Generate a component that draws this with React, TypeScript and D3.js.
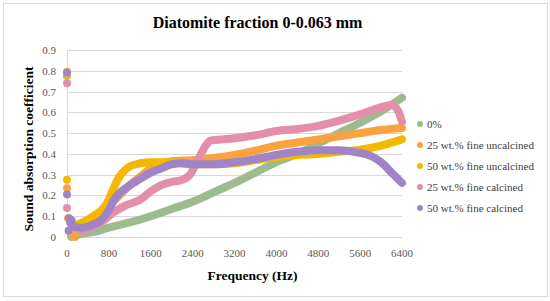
import React, { useRef, useEffect } from 'react';
import * as d3 from 'd3';

// Frequency (Hz) / absorption readings per series
const greenFreq = [80, 200, 400, 600, 800, 1200, 1600, 2000, 2400, 2800, 3200, 3600, 4000, 4400, 4800, 5200, 5600, 6000, 6400];
const greenVals = [0, 0.01, 0.02, 0.03, 0.045, 0.07, 0.1, 0.135, 0.17, 0.215, 0.26, 0.31, 0.36, 0.4, 0.45, 0.5, 0.55, 0.605, 0.67];

const orangeFreq = [120, 200, 400, 600, 800, 1000, 1200, 1400, 1600, 1800, 2000, 2400, 2800, 3200, 3600, 4000, 4400, 4800, 5200, 5600, 6000, 6400];
const orangeVals = [0.01, 0.05, 0.08, 0.11, 0.15, 0.2, 0.25, 0.29, 0.33, 0.35, 0.365, 0.37, 0.38, 0.395, 0.415, 0.44, 0.455, 0.47, 0.485, 0.5, 0.515, 0.525];

const yellowFreq = [100, 300, 500, 700, 800, 900, 1000, 1100, 1200, 1400, 1600, 2000, 2400, 2800, 3200, 3600, 4000, 4400, 4800, 5200, 5600, 6000, 6400];
const yellowVals = [0.05, 0.07, 0.1, 0.14, 0.18, 0.24, 0.29, 0.32, 0.34, 0.355, 0.36, 0.36, 0.35, 0.35, 0.355, 0.37, 0.385, 0.395, 0.4, 0.41, 0.42, 0.44, 0.47];

const pinkFreq = [300, 500, 700, 900, 1100, 1400, 1600, 1800, 2000, 2200, 2350, 2500, 2650, 2750, 3000, 3200, 3600, 4000, 4400, 4800, 5200, 5600, 6000, 6200, 6320, 6400];
const pinkVals = [0.03, 0.05, 0.08, 0.12, 0.15, 0.18, 0.22, 0.25, 0.265, 0.275, 0.3, 0.37, 0.44, 0.465, 0.47, 0.475, 0.49, 0.51, 0.52, 0.535, 0.56, 0.59, 0.625, 0.635, 0.61, 0.555];

const purpleFreq = [100, 300, 500, 650, 800, 900, 1000, 1150, 1400, 1600, 1800, 2000, 2200, 2400, 2800, 3200, 3600, 4000, 4400, 4800, 5200, 5600, 5800, 6000, 6200, 6400];
const purpleVals = [0.05, 0.045, 0.06, 0.08, 0.13, 0.18, 0.21, 0.24, 0.28, 0.31, 0.33, 0.35, 0.355, 0.35, 0.35, 0.36, 0.375, 0.395, 0.41, 0.418, 0.418, 0.405, 0.39, 0.36, 0.31, 0.26];

// stray readings sitting at the 0 Hz end
const strayFreq = [0, 0, 0, 0, 0, 0, 0, 0, 20, 150, 0, 40, 60, 90, 30];
const strayVals = [0.775, 0.795, 0.78, 0.74, 0.79, 0.275, 0.235, 0.205, 0.09, 0.0, 0.14, 0.09, 0.07, 0.08, 0.03];
const strayColor = [0, 1, 2, 3, 4, 2, 1, 4, 1, 1, 3, 4, 4, 4, 4];
const strayDraw = [0, 1, 2, 3, 4, 5, 6, 7, 8, 9, 10, 11, 12, 13, 14];

const seriesNames = ['0%', '25 wt.% fine uncalcined', '50 wt.% fine uncalcined', '25 wt.% fine calcined', '50 wt.% fine calcined'];
const seriesColors = ['#9dbb8e', '#f9a23f', '#f4b800', '#e38fa9', '#a084c8'];

const xTicks = [0, 800, 1600, 2400, 3200, 4000, 4800, 5600, 6400];
const yTicks = [0, 0.1, 0.2, 0.3, 0.4, 0.5, 0.6, 0.7, 0.8, 0.9];

const width = 550;
const height = 301;
const margin = { top: 50, left: 67 };

const App = () => {
  const ref = useRef<SVGSVGElement>(null);

  useEffect(() => {
    const svg = d3.select(ref.current);
    svg.selectAll('*').remove();

    const x = d3.scaleLinear().domain([0, 6400]).range([margin.left, margin.left + 335]);
    const y = d3.scaleLinear().domain([0, 0.9]).range([margin.top + 187, margin.top]);

    svg.append('rect')
      .attr('x', 3.5).attr('y', 3.5)
      .attr('width', 544).attr('height', 293)
      .attr('fill', '#fff')
      .attr('stroke', '#d9d9d9');

    // grid
    svg.append('g')
      .selectAll('line')
      .data(yTicks)
      .enter()
      .append('line')
      .attr('x1', x(0)).attr('x2', x(6400))
      .attr('y1', d => Math.round(y(d)) + 0.5).attr('y2', d => Math.round(y(d)) + 0.5)
      .attr('stroke', '#d9d9d9');

    svg.append('line')
      .attr('x1', x(0) + 0.5).attr('x2', x(0) + 0.5)
      .attr('y1', y(0.9)).attr('y2', y(0))
      .attr('stroke', '#d9d9d9');

    const tickFont = 'Liberation Serif, Times New Roman, serif';

    svg.append('g')
      .selectAll('text')
      .data(yTicks)
      .enter()
      .append('text')
      .attr('x', 56)
      .attr('y', d => y(d) + 4)
      .attr('text-anchor', 'end')
      .attr('font-family', tickFont)
      .attr('font-size', '11px')
      .attr('fill', '#595959')
      .text(d => (d === 0 ? '0' : d3.format('.1f')(d)));

    svg.append('g')
      .selectAll('text')
      .data(xTicks)
      .enter()
      .append('text')
      .attr('x', d => x(d))
      .attr('y', 257)
      .attr('text-anchor', 'middle')
      .attr('font-family', tickFont)
      .attr('font-size', '11px')
      .attr('fill', '#595959')
      .text(d => String(d));

    // series bands
    const allFreq = [greenFreq, orangeFreq, yellowFreq, pinkFreq, purpleFreq];
    const allVals = [greenVals, orangeVals, yellowVals, pinkVals, purpleVals];

    const line = d3.line<[number, number]>()
      .x(d => x(d[0]))
      .y(d => y(d[1]))
      .curve(d3.curveMonotoneX);

    allFreq.forEach((freqs, i) => {
      const pts = freqs.map((f, j) => [f, allVals[i][j]] as [number, number]);
      svg.append('path')
        .datum(pts)
        .attr('fill', 'none')
        .attr('stroke', seriesColors[i])
        .attr('stroke-width', 8)
        .attr('stroke-linecap', 'round')
        .attr('stroke-linejoin', 'round')
        .attr('d', line);
    });

    svg.append('g')
      .selectAll('circle')
      .data(strayDraw)
      .enter()
      .append('circle')
      .attr('cx', d => x(strayFreq[d]))
      .attr('cy', d => y(strayVals[d]))
      .attr('r', 4)
      .attr('fill', d => seriesColors[strayColor[d]]);

    // legend
    const legend = svg.append('g').attr('transform', 'translate(420, 124)');
    seriesNames.forEach((name, i) => {
      const item = legend.append('g').attr('transform', `translate(0, ${i * 21})`);
      item.append('circle')
        .attr('cx', 0).attr('cy', 0).attr('r', 3)
        .attr('fill', seriesColors[i]);
      item.append('text')
        .attr('x', 7).attr('y', 4)
        .attr('font-family', tickFont)
        .attr('font-size', '11px')
        .attr('fill', '#404040')
        .text(name);
    });

    // titles
    svg.append('text')
      .attr('x', 257.5).attr('y', 28)
      .attr('text-anchor', 'middle')
      .attr('font-family', tickFont)
      .attr('font-size', '16px')
      .attr('font-weight', 'bold')
      .attr('fill', '#000')
      .text('Diatomite fraction 0-0.063 mm');

    svg.append('text')
      .attr('x', 252.5).attr('y', 280)
      .attr('text-anchor', 'middle')
      .attr('font-family', tickFont)
      .attr('font-size', '13.5px')
      .attr('font-weight', 'bold')
      .attr('fill', '#000')
      .text('Frequency (Hz)');

    svg.append('text')
      .attr('transform', 'rotate(-90)')
      .attr('x', -149).attr('y', 33)
      .attr('text-anchor', 'middle')
      .attr('font-family', tickFont)
      .attr('font-size', '13.5px')
      .attr('font-weight', 'bold')
      .attr('fill', '#000')
      .text('Sound absorption coefficient');
  }, []);

  return (
    <div style={{ position: 'absolute', left: 0, top: 0 }}>
      <svg ref={ref} width={width} height={height} style={{ display: 'block' }} />
    </div>
  );
};

export default App;
